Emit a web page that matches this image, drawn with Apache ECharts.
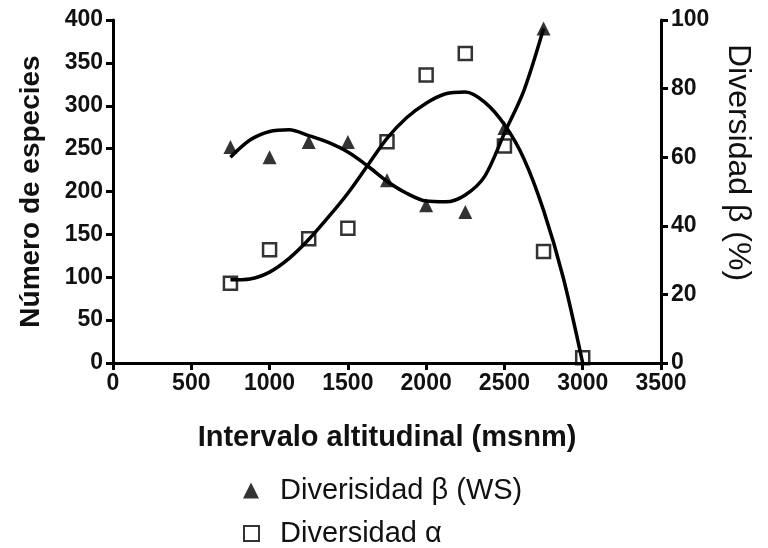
<!DOCTYPE html>
<html>
<head>
<meta charset="utf-8">
<script src="https://cdn.jsdelivr.net/npm/echarts@6/dist/echarts.min.js"></script>
<style>
  html, body { margin: 0; padding: 0; background: #fff; }
  #chart { width: 768px; height: 548px; }
</style>
</head>
<body>
<div id="chart"></div>
<script>
// altitud (msnm) de cada intervalo
var altitudBeta = [750, 1000, 1250, 1500, 1750, 2000, 2250, 2500, 2750];
var betaWS = [63, 60, 64.4, 64.4, 53.3, 46, 44, 68.5, 97.5];          // %
var altitudAlfa = [750, 1000, 1250, 1500, 1750, 2000, 2250, 2500, 2750, 3000];
var alfa = [93, 132, 145, 157, 258, 336, 361, 253, 130, 6];            // especies

// curvas de ajuste
var ajusteX = [750, 875, 1000, 1125, 1250, 1375, 1500, 1625, 1750, 1875, 2000, 2125, 2250, 2375, 2500, 2625, 2750];
var ajusteBeta = [60, 65, 67.5, 68, 66.3, 64.3, 61.5, 57.5, 53, 49.5, 47.2, 47, 49, 54.5, 67, 79.5, 97.5];
var ajusteAlfaX = [750, 875, 1000, 1125, 1250, 1375, 1500, 1625, 1750, 1875, 2000, 2125, 2250, 2375, 2500, 2625, 2750, 2875, 3000];
var ajusteAlfa = [97, 98, 106, 122, 144, 170, 198, 230, 262, 286, 303, 314, 316, 304, 278, 238, 178, 100, 0];

function pares(xs, ys) {
  return xs.map(function(x, i) { return [x, ys[i]]; });
}

var font = 'Liberation Sans, Arial, sans-serif';
var linea = { show: true, lineStyle: { color: '#000', width: 3 } };
var marca = { show: true, length: 7, lineStyle: { color: '#000', width: 3 } };
var etiqueta = { fontFamily: font, fontSize: 23, fontWeight: 'bold', color: '#111', margin: 10 };

var option = {
  backgroundColor: '#fff',
  animation: false,
  textStyle: { fontFamily: font },
  grid: { left: 113, right: 107, top: 20, bottom: 185 },
  legend: [{
    left: 238, top: 471,
    itemWidth: 16, itemHeight: 16, itemGap: 0,
    data: ['Diverisidad β (WS)'],
    textStyle: { fontFamily: font, fontSize: 29, color: '#111', padding: [0, 0, 0, 16] }
  }, {
    left: 238, top: 514,
    itemWidth: 15, itemHeight: 15, itemGap: 0,
    data: ['Diversidad α'],
    textStyle: { fontFamily: font, fontSize: 29, color: '#111', padding: [0, 0, 0, 16] }
  }],
  xAxis: {
    type: 'value', min: 0, max: 3500, interval: 500,
    name: 'Intervalo altitudinal (msnm)',
    nameLocation: 'middle', nameGap: 60,
    nameTextStyle: { fontFamily: font, fontSize: 29, fontWeight: 'bold', color: '#111' },
    axisLabel: Object.assign({ formatter: function(v) { return String(v); } }, etiqueta, { margin: 9 }),
    axisLine: linea, axisTick: marca, splitLine: { show: false }
  },
  yAxis: [{
    type: 'value', min: 0, max: 400, interval: 50,
    name: 'Número de especies',
    nameLocation: 'middle', nameGap: 68, nameRotate: 90,
    nameTextStyle: { fontFamily: font, fontSize: 28, fontWeight: 'bold', color: '#111' },
    axisLabel: etiqueta,
    axisLine: linea, axisTick: marca, splitLine: { show: false }
  }, {
    type: 'value', min: 0, max: 100, interval: 20, position: 'right',
    name: 'Diversidad β (%)',
    nameLocation: 'middle', nameGap: 61, nameRotate: -90,
    nameTextStyle: { fontFamily: font, fontSize: 32, color: '#111', padding: [0, 58, 0, 0] },
    axisLabel: etiqueta,
    axisLine: linea, axisTick: marca, splitLine: { show: false }
  }],
  series: [{
    name: 'ajuste beta',
    type: 'line',
    yAxisIndex: 1,
    smooth: 0.3,
    showSymbol: false,
    lineStyle: { color: '#000', width: 3.5 },
    data: pares(ajusteX, ajusteBeta)
  }, {
    name: 'ajuste alfa',
    type: 'line',
    yAxisIndex: 0,
    smooth: 0.3,
    showSymbol: false,
    lineStyle: { color: '#000', width: 3.5 },
    data: pares(ajusteAlfaX, ajusteAlfa)
  }, {
    name: 'Diverisidad β (WS)',
    type: 'scatter',
    yAxisIndex: 1,
    symbol: 'triangle',
    symbolSize: 14,
    itemStyle: { color: '#000' },
    z: 5,
    data: pares(altitudBeta, betaWS)
  }, {
    name: 'Diversidad α',
    type: 'scatter',
    yAxisIndex: 0,
    symbol: 'rect',
    symbolSize: 13,
    itemStyle: { color: 'rgba(255,255,255,0)', borderColor: '#000', borderWidth: 2.5 },
    z: 5,
    data: pares(altitudAlfa, alfa)
  }]
};

var chart = echarts.init(document.getElementById('chart'), null, { renderer: 'canvas' });
chart.setOption(option);
</script>
</body>
</html>
